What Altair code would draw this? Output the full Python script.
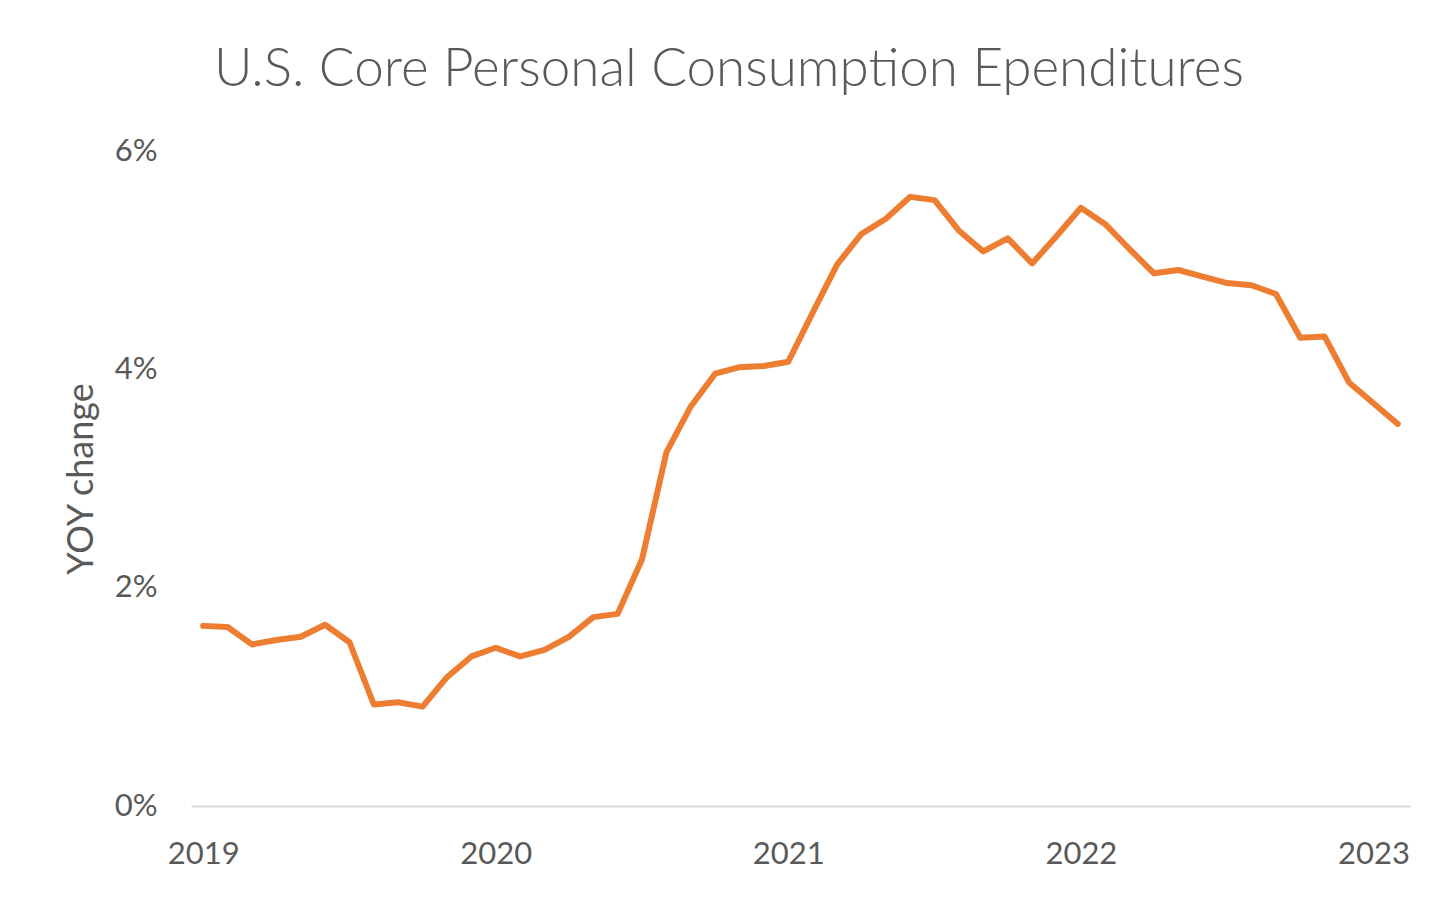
import altair as alt
import pandas as pd

# Monthly observations, Jan 2019 .. Feb 2023
months = [f"{y}-{m:02d}" for y in range(2019, 2024) for m in range(1, 13)][:50]
core_pce_yoy = [1.65, 1.64, 1.48, 1.52, 1.55, 1.66, 1.50, 0.93, 0.95, 0.91, 1.18, 1.37,
                1.45, 1.37, 1.43, 1.55, 1.73, 1.76, 2.26, 3.24, 3.66, 3.96, 4.02, 4.03,
                4.07, 4.52, 4.96, 5.24, 5.38, 5.58, 5.55, 5.27, 5.08, 5.20, 4.97, 5.22,
                5.48, 5.33, 5.10, 4.88, 4.91, 4.85, 4.79, 4.77, 4.69, 4.29, 4.30, 3.88,
                3.69, 3.50]
y_ticks = [0, 2, 4, 6]

TITLE = "U.S. Core Personal Consumption Ependitures"
Y_TITLE = "YOY change"
TEXT = "#595959"
FONT = "Lato"

df = pd.DataFrame({"month": months, "yoy": core_pce_yoy})

chart = alt.Chart(df).mark_line(
    color="#ED7D31", strokeWidth=6, strokeCap="round", strokeJoin="round"
).encode(
    x=alt.X("month:O",
            scale=alt.Scale(type="point", padding=0.5),
            axis=alt.Axis(title=None, labelAngle=0, ticks=False, labelOverlap=False,
                          labelExpr="slice(datum.value,5,7)=='01' ? slice(datum.value,0,4) : ''",
                          domainColor="#D9D9D9", domainWidth=2,
                          labelFontSize=31, labelColor=TEXT, labelFont=FONT,
                          labelPadding=33)),
    y=alt.Y("yoy:Q",
            scale=alt.Scale(domain=[0, 6], nice=False),
            axis=alt.Axis(values=y_ticks, labelExpr="datum.value + '%'", grid=False,
                          domain=False, ticks=False, title=Y_TITLE,
                          titleFontSize=36, titleFontWeight="normal", titleColor=TEXT,
                          titleFont=FONT, titlePadding=14,
                          labelFontSize=31, labelColor=TEXT, labelFont=FONT,
                          labelPadding=34)),
).properties(
    width=1219, height=655,
    title=alt.TitleParams(TITLE, fontSize=53, font=FONT, fontWeight=300, color=TEXT,
                          anchor="middle", frame="group", dx=-71.5, offset=38),
    autosize=alt.AutoSizeParams(type="none"),
    padding={"left": 183, "top": 143, "right": 38, "bottom": 88},
).configure(background="white").configure_view(stroke=None, strokeWidth=0)

chart.save("out.html", embed_options={"renderer": "svg", "actions": False})
